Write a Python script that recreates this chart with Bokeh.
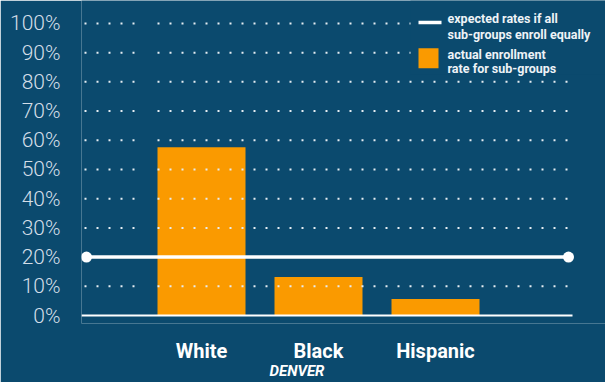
from bokeh.plotting import figure
from bokeh.models import Range1d, FixedTicker, Label, LinearAxis
from bokeh.embed import file_html
from bokeh.resources import INLINE

# ---------------- data ----------------
categories = ["White", "Black", "Hispanic"]
actual_rates = [57.6, 13.2, 5.7]          # percent
expected_rate = 20                         # percent
y_ticks = [0, 10, 20, 30, 40, 50, 60, 70, 80, 90, 100]
y_tick_labels = [f"{t}%" for t in y_ticks]
legend_line_text = ["expected rates if all", "sub-groups enroll equally"]
legend_bar_text = ["actual enrollment", "rate for sub-groups"]
region_label = "DENVER"

# ---------------- style ----------------
BG = "#0b4a6e"
ORANGE = "#fa9a00"
WHITE = "#ffffff"
TICK_COL = "#d3dee8"

W, H = 605, 382
LEFT, BOTTOM = 81, 58           # borders (px)
PX_X = 117.0                    # px per category step
X0_PX = 201.0                   # pixel of first category centre
PX_Y = 2.93                     # px per percent
Y0_PX = 316.0                   # pixel of 0 %

def xd(px):
    return (px - X0_PX) / PX_X

def yd(py):
    return (Y0_PX - py) / PX_Y

xs = list(range(len(categories)))

p = figure(width=W, height=H, output_backend="svg", toolbar_location=None,
           x_range=Range1d(xd(LEFT), xd(W)),
           y_range=Range1d(yd(H - BOTTOM), yd(0)),
           min_border_left=LEFT, min_border_right=0,
           min_border_top=0, min_border_bottom=BOTTOM)
p.background_fill_color = BG
p.border_fill_color = BG
p.outline_line_color = None
p.xgrid.grid_line_color = None
p.ygrid.grid_line_color = None

# bars
p.vbar(x=xs, top=actual_rates, bottom=0, width=88 / PX_X,
       fill_color=ORANGE, line_color=None)

# dotted gridlines (drawn on top of bars)
grid_vals = [t for t in y_ticks if t > 0]
p.segment(x0=[xd(84)] * len(grid_vals), x1=[xd(137)] * len(grid_vals),
          y0=grid_vals, y1=grid_vals, line_color="#e6edf2",
          line_width=2, line_dash="2 10")
p.segment(x0=[xd(157)] * len(grid_vals), x1=[xd(574)] * len(grid_vals),
          y0=grid_vals, y1=grid_vals, line_color="#e6edf2",
          line_width=2, line_dash="2 10")

# baseline
p.segment(x0=[xd(81)], x1=[xd(572)], y0=[0], y1=[0],
          line_color=WHITE, line_width=2)

# expected-rate line
ex = [xd(86), xd(568)]
p.line(x=ex, y=[expected_rate, expected_rate], line_color=WHITE, line_width=3.5)
p.scatter(x=ex, y=[expected_rate, expected_rate], size=11,
          fill_color=WHITE, line_color=None)

# legend box (hides gridlines behind it)
p.quad(left=[xd(410)], right=[xd(W)], top=[yd(0)], bottom=[yd(74)],
       fill_color=BG, line_color=None)
p.line(x=[xd(418), xd(441)], y=[yd(22), yd(22)], line_color=WHITE, line_width=3.5)
p.scatter(x=[xd(428)], y=[yd(58)], marker="square", size=20,
          fill_color=ORANGE, line_color=None)
leg_font = dict(text_font="Roboto", text_font_style="bold",
                text_font_size="12.5px", text_color="#eef3f7",
                text_align="left", text_baseline="alphabetic")
for txt, py in zip(legend_line_text + legend_bar_text, [18.5, 34.5, 54.5, 68.5]):
    p.add_layout(Label(x=xd(447), y=yd(py), text=txt, **leg_font))

# axes
p.yaxis.ticker = FixedTicker(ticks=y_ticks)
p.yaxis.major_label_overrides = {t: l for t, l in zip(y_ticks, y_tick_labels)}
p.yaxis.axis_line_color = None
p.yaxis.major_tick_line_color = None
p.yaxis.minor_tick_line_color = None
p.yaxis.major_label_standoff = 15
p.yaxis.major_label_text_font = "Roboto Light, Roboto"
p.yaxis.major_label_text_font_size = "21px"
p.yaxis.major_label_text_color = TICK_COL

p.xaxis.ticker = FixedTicker(ticks=xs)
p.xaxis.major_label_overrides = {i: c for i, c in enumerate(categories)}
p.xaxis.axis_line_color = None
p.xaxis.major_tick_line_color = None
p.xaxis.minor_tick_line_color = None
p.xaxis.major_label_standoff = 9
p.xaxis.major_label_text_font = "Roboto"
p.xaxis.major_label_text_font_style = "bold"
p.xaxis.major_label_text_font_size = "20px"
p.xaxis.major_label_text_color = WHITE

# second axis carrying the region name
region_x = xd(296.5)
ax2 = LinearAxis(ticker=FixedTicker(ticks=[region_x]),
                 major_label_overrides={region_x: region_label},
                 axis_line_color=None, major_tick_line_color=None,
                 minor_tick_line_color=None, major_label_standoff=-10,
                 major_label_text_font="Roboto",
                 major_label_text_font_style="bold italic",
                 major_label_text_font_size="15px",
                 major_label_text_color=WHITE)
p.add_layout(ax2, "below")

open("out.html", "w").write(file_html(p, INLINE))
